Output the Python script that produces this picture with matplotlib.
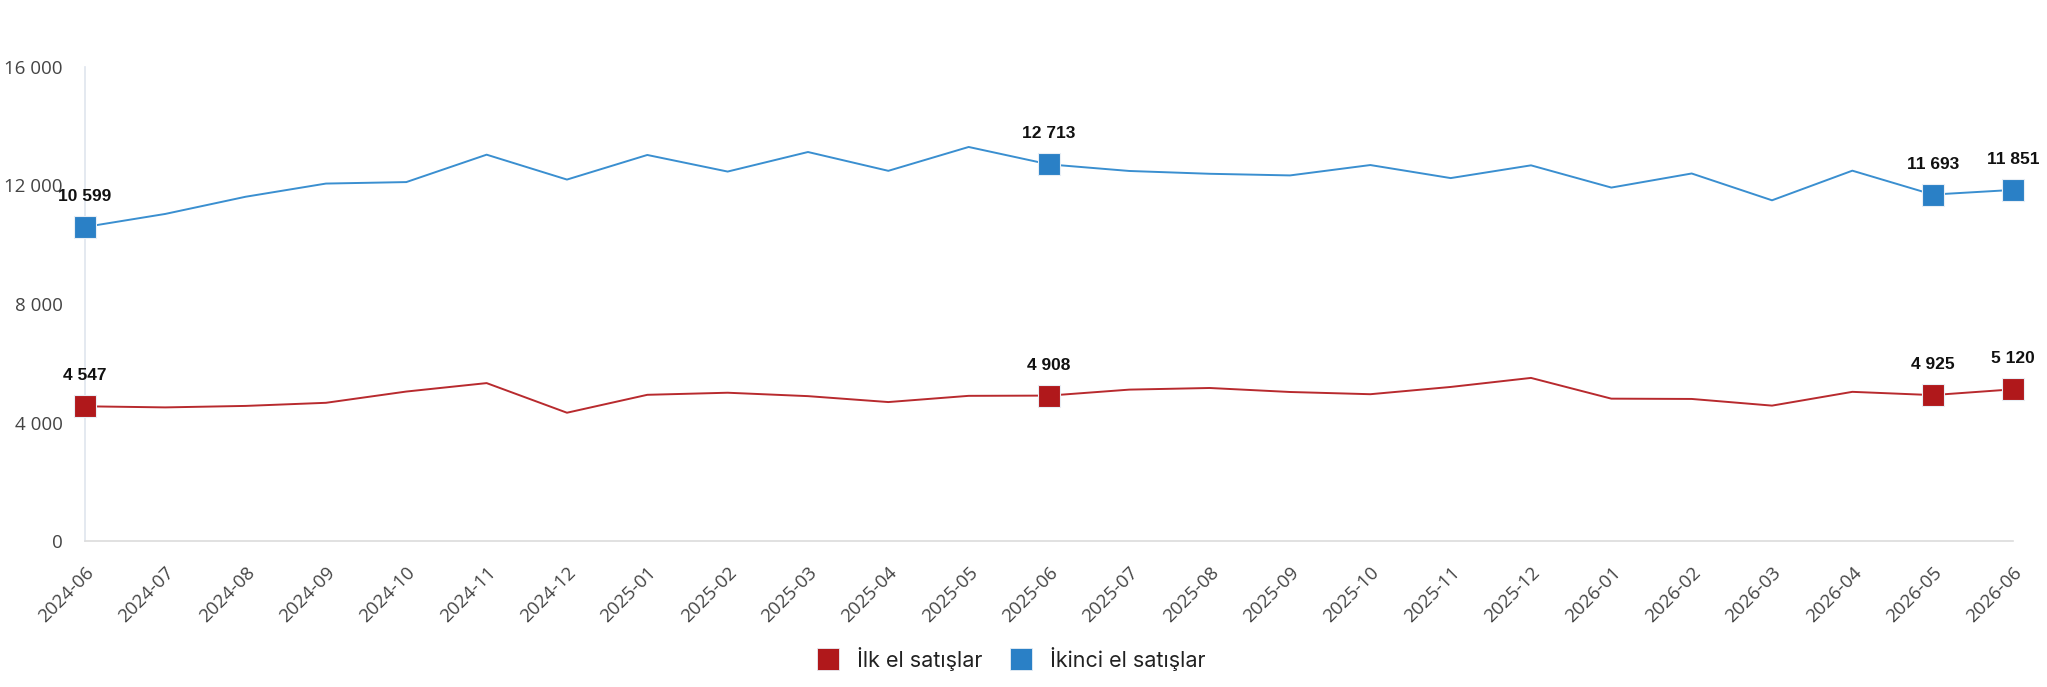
import matplotlib
matplotlib.use('Agg')
import matplotlib.pyplot as plt
from matplotlib.ticker import FuncFormatter
from matplotlib.lines import Line2D

months = ['2024-06', '2024-07', '2024-08', '2024-09', '2024-10', '2024-11', '2024-12',
          '2025-01', '2025-02', '2025-03', '2025-04', '2025-05', '2025-06', '2025-07',
          '2025-08', '2025-09', '2025-10', '2025-11', '2025-12', '2026-01', '2026-02',
          '2026-03', '2026-04', '2026-05', '2026-06']
ilk_el = [4547, 4510, 4560, 4665, 5045, 5330, 4330, 4935, 5005, 4890, 4690, 4900, 4908,
          5110, 5165, 5030, 4955, 5200, 5505, 4805, 4795, 4570, 5035, 4925, 5120]
ikinci_el = [10599, 11040, 11620, 12065, 12115, 13040, 12200, 13030, 12470, 13130, 12495,
             13300, 12713, 12490, 12395, 12340, 12690, 12250, 12680, 11930, 12405, 11500,
             12500, 11693, 11851]
labelled = [0, 12, 23, 24]
series_names = ['İlk el satışlar', 'İkinci el satışlar']

red_line, red_mark = '#b82a2e', '#b0181b'
blue_line, blue_mark = '#3a8fd0', '#2a80c6'

fig = plt.figure(figsize=(20.47, 6.87), dpi=100)
ax = fig.add_axes([0.0415, 0.2125, 0.9419, 0.69])

x = list(range(len(months)))
for vals, lc, mc in [(ilk_el, red_line, red_mark), (ikinci_el, blue_line, blue_mark)]:
    ax.plot(x, vals, color=lc, lw=1.4, zorder=2)
    ax.plot([x[i] for i in labelled], [vals[i] for i in labelled], ls='none', marker='s',
            ms=15.5, mfc=mc, mec='#e8eef5', mew=0.8, zorder=3, clip_on=False)
    for i in labelled:
        ax.annotate(f'{vals[i]:,}'.replace(',', ' '), (x[i], vals[i]), xytext=(0, 22),
                    textcoords='offset points', ha='center', va='center',
                    fontsize=12.5, fontweight='bold', family='Liberation Sans', color='#111111')

ax.set_xlim(0, len(months) - 1)
ax.set_ylim(0, 16000)
ax.set_yticks([0, 4000, 8000, 12000, 16000])
ax.yaxis.set_major_formatter(FuncFormatter(lambda v, p: f'{int(v):,}'.replace(',', ' ')))
ax.set_xticks(x)
ax.set_xticklabels(months, rotation=45, ha='right', rotation_mode='anchor')

for s in ['top', 'right']:
    ax.spines[s].set_visible(False)
ax.spines['left'].set_color('#dfe5ee')
ax.spines['bottom'].set_color('#dcdcdc')
ax.spines['left'].set_linewidth(1.2)
ax.spines['bottom'].set_linewidth(1.2)
ax.tick_params(axis='both', length=0, labelsize=13.5, labelcolor='#444444')
ax.tick_params(axis='y', pad=16)
ax.tick_params(axis='x', pad=16)
for lab in ax.get_xticklabels() + ax.get_yticklabels():
    lab.set_family('Open Sans')

handles = [Line2D([], [], ls='none', marker='s', ms=16, mfc=red_mark, mec='#e8eef5', mew=0.6),
           Line2D([], [], ls='none', marker='s', ms=16, mfc=blue_mark, mec='#e8eef5', mew=0.6)]
fig.legend(handles, series_names, loc='center', bbox_to_anchor=(0.4915, 0.041), ncol=2,
           frameon=False, prop={'family': 'Inter', 'size': 15.5}, handletextpad=0.35,
           columnspacing=0.8, labelcolor='#222222')

fig.savefig('out.png', dpi=100, facecolor='white')
